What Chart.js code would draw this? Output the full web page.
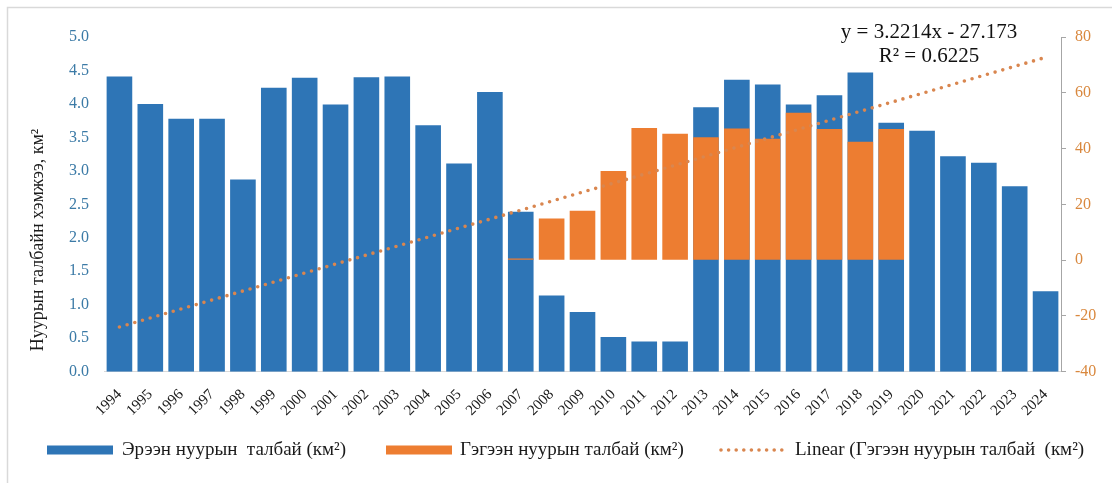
<!DOCTYPE html>
<html>
<head>
<meta charset="utf-8">
<script src="https://cdn.jsdelivr.net/npm/chart.js@4.4.1/dist/chart.umd.min.js"></script>
<style>
html,body{margin:0;padding:0;background:#fff;}
#wrap{position:relative;width:1112px;height:483px;}
</style>
</head>
<body>
<div id="wrap"><canvas id="c" width="1112" height="483"></canvas></div>
<script>
const years = ['1994','1995','1996','1997','1998','1999','2000','2001','2002','2003','2004','2005','2006','2007','2008','2009','2010','2011','2012','2013','2014','2015','2016','2017','2018','2019','2020','2021','2022','2023','2024'];
const ereenArea = [4.41,4.00,3.78,3.78,2.87,4.24,4.39,3.99,4.40,4.41,3.68,3.11,4.18,2.39,1.14,0.89,0.52,0.45,0.45,3.95,4.36,4.29,3.99,4.13,4.47,3.72,3.60,3.22,3.12,2.77,1.20];
const gegeenArea = [null,null,null,null,null,null,null,null,null,null,null,null,null,0.6,14.9,17.7,32.0,47.4,45.3,44.1,47.2,43.5,52.8,47.0,42.4,47.0,null,null,null,null,null];
const trendSlope = 3.2214;
const trendIntercept = -27.173;
const trendR2 = 0.6225;
const leftTicks = {min:0, max:5, step:0.5};
const rightTicks = {min:-40, max:80, step:20};
const seriesNames = ['Эрээн нуурын  талбай (км²)','Гэгээн нуурын талбай (км²)','Linear (Гэгээн нуурын талбай  (км²)'];
const axisTitle = 'Нуурын талбайн хэмжээ, км²';

const trendValues = years.map((y,i)=> trendSlope*(i+1)+trendIntercept);

const BLUE = '#2E75B6', ORANGE = '#ED7D31', DOT = '#D9864F';
const FF = "'Liberation Serif','Times New Roman',serif";

const extras = {
  id:'extras',
  afterDraw(chart){
    const ctx = chart.ctx;
    ctx.save();
    // frame
    ctx.strokeStyle = '#D9D9D9'; ctx.lineWidth = 1.5;
    ctx.beginPath(); ctx.moveTo(7.5,483); ctx.lineTo(7.5,7.5); ctx.lineTo(1112,7.5); ctx.stroke();
    // axis title
    ctx.fillStyle = '#1a1a1a';
    ctx.font = '18px ' + FF;
    ctx.translate(38, 240); ctx.rotate(-Math.PI/2);
    ctx.textAlign = 'center'; ctx.textBaseline = 'middle';
    ctx.fillText(axisTitle, 0, 0);
    ctx.restore();
    ctx.save();
    // equation
    ctx.fillStyle = '#111';
    ctx.font = '21px ' + FF;
    ctx.textAlign = 'center'; ctx.textBaseline = 'middle';
    const sign = trendIntercept < 0 ? ' - ' : ' + ';
    ctx.fillText('y = ' + trendSlope + 'x' + sign + Math.abs(trendIntercept), 929, 32);
    ctx.fillText('R² = ' + trendR2, 929, 56);
    // legend
    const ly = 450;
    ctx.font = '19px ' + FF; ctx.textAlign = 'left';
    ctx.fillStyle = BLUE; ctx.fillRect(47, ly-4.5, 66, 9);
    ctx.fillStyle = '#1a1a1a'; ctx.fillText(seriesNames[0], 122, ly);
    ctx.fillStyle = ORANGE; ctx.fillRect(386, ly-4.5, 66, 9);
    ctx.fillStyle = '#1a1a1a'; ctx.fillText(seriesNames[1], 460, ly);
    ctx.strokeStyle = DOT; ctx.lineWidth = 3.6; ctx.lineCap = 'round'; ctx.setLineDash([0,7.6]);
    ctx.beginPath(); ctx.moveTo(721, ly); ctx.lineTo(788, ly); ctx.stroke();
    ctx.setLineDash([]);
    ctx.fillStyle = '#1a1a1a'; ctx.fillText(seriesNames[2], 795, ly);
    ctx.restore();
  }
};

new Chart(document.getElementById('c'), {
  data: {
    labels: years,
    datasets: [
      {type:'bar', label:seriesNames[0], data:ereenArea, yAxisID:'y', backgroundColor:BLUE, grouped:false, categoryPercentage:1, barPercentage:0.83, order:2},
      {type:'bar', label:seriesNames[1], data:gegeenArea, yAxisID:'y1', backgroundColor:ORANGE, grouped:false, categoryPercentage:1, barPercentage:0.83, order:1},
      {type:'line', label:seriesNames[2], data:trendValues, yAxisID:'y1', borderColor:DOT, borderWidth:3.6, borderDash:[0,8], borderCapStyle:'round', pointRadius:0, fill:false, tension:0, order:0}
    ]
  },
  options: {
    responsive:false, animation:false,
    layout:{padding:{top:37, left:0, right:0, bottom:0}},
    plugins:{legend:{display:false}, tooltip:{enabled:false}},
    scales:{
      x:{
        grid:{display:false},
        border:{display:true, color:'#D9D9D9', width:1},
        ticks:{minRotation:45, maxRotation:45, autoSkip:false, padding:6, color:'#1a1a1a', font:{family:FF, size:15}},
        afterFit(s){ s.height = 111.3; }
      },
      y:{
        position:'left', min:leftTicks.min, max:leftTicks.max,
        grid:{display:false}, border:{display:false},
        ticks:{stepSize:leftTicks.step, padding:7, color:'#3B7AA6', font:{family:FF, size:16}, callback:v=>Number(v).toFixed(1)},
        afterFit(s){ s.width = 104; }
      },
      y1:{
        position:'right', min:rightTicks.min, max:rightTicks.max,
        grid:{display:true, drawOnChartArea:false, drawTicks:true, tickLength:5, color:'#A6A6A6'},
        border:{display:true, color:'#A6A6A6', width:1},
        ticks:{stepSize:rightTicks.step, padding:9, color:'#D9883E', font:{family:FF, size:16}},
        afterFit(s){ s.width = 51; }
      }
    }
  },
  plugins:[extras]
});
</script>
</body>
</html>
